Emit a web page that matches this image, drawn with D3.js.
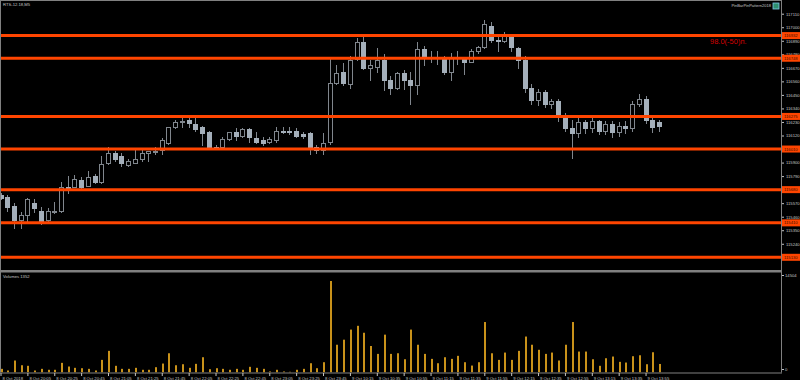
<!DOCTYPE html>
<html>
<head>
<meta charset="utf-8">
<script src="https://cdn.jsdelivr.net/npm/d3@7/dist/d3.min.js"></script>
<style>
  body { margin: 0; background: #000; }
  svg { display: block; }
  text { font-family: "Liberation Sans", Arial, sans-serif; }
</style>
</head>
<body>
<script>
// RTS-12.18, M5 : 8 Oct 19:45 .. 9 Oct 14:05
var opens  = [115640,115620,115550,115430,115470,115570,115510,115430,115500,115510,
              115700,115700,115760,115710,115790,115740,115900,115980,115950,115880,
              115900,115930,115980,115985,116000,116060,116190,116230,116250,116210,
              116190,116150,116030,116030,116090,116150,116120,116170,116100,116080,
              116070,116080,116160,116160,116160,116130,116140,116030,116000,116070,
              116550,116640,116540,116740,116880,116670,116680,116730,116570,116510,
              116630,116570,116530,116820,116760,116760,116760,116640,116750,116750,
              116720,116810,116840,117010,116900,116890,116930,116830,116730,116510,
              116410,116470,116380,116400,116270,116180,116140,116230,116180,116240,
              116160,116210,116150,116200,116180,116380,116420,116250,116230];
var highs  = [115650,115640,115570,115500,115610,115600,115540,115530,115580,115740,
              115790,115800,115780,115830,115810,115950,116030,115990,115980,115930,
              116020,116000,115990,116030,116100,116190,116250,116270,116260,116290,
              116200,116160,116040,116110,116150,116180,116180,116180,116150,116110,
              116110,116190,116190,116190,116180,116150,116150,116040,116140,116760,
              116690,116710,116770,116910,116940,116730,116830,116780,116600,116640,
              116650,116640,116880,116850,116810,116810,116770,116790,116810,116760,
              116820,116850,117060,117040,116940,116960,116940,116840,116770,116540,
              116500,116490,116420,116420,116300,116250,116260,116250,116260,116250,
              116240,116240,116230,116240,116400,116460,116440,116270,116250];
var lows   = [115600,115510,115370,115370,115420,115500,115400,115420,115490,115500,
              115650,115700,115690,115710,115730,115730,115890,115910,115870,115870,
              115900,115910,115910,115970,115970,116050,116180,116190,116190,116160,
              116040,116030,116010,116030,116080,116080,116110,116070,116060,116040,
              116060,116070,116140,116130,116110,116100,115970,115980,115970,116050,
              116540,116530,116510,116730,116660,116570,116640,116490,116460,116500,
              116500,116380,116460,116690,116720,116700,116620,116570,116700,116620,
              116720,116790,116830,116880,116810,116880,116810,116670,116470,116380,
              116370,116350,116340,116240,116160,115940,116110,116140,116150,116130,
              116130,116110,116120,116140,116160,116360,116220,116150,116160];
var closes = [115610,115540,115430,115470,115600,115530,115420,115510,115510,115700,
              115690,115770,115700,115780,115740,115890,115980,115930,115900,115910,
              115930,115980,115990,115990,116080,116190,116230,116240,116220,116170,
              116140,116030,116020,116090,116150,116120,116170,116110,116070,116060,
              116090,116160,116150,116150,116120,116120,116030,116000,116060,116550,
              116630,116550,116730,116880,116670,116690,116730,116570,116510,116630,
              116570,116530,116820,116760,116760,116750,116640,116750,116750,116720,
              116810,116840,117030,116900,116890,116940,116840,116730,116510,116410,
              116470,116380,116400,116270,116180,116140,116230,116180,116240,116160,
              116210,116150,116200,116180,116380,116420,116250,116190,116200];
var volumes = [580,320,1900,1150,1060,320,580,430,430,1530,
               950,740,680,580,320,2000,3430,1060,580,580,
               740,430,430,840,1420,3050,1150,1310,740,1370,
               2420,520,680,580,430,580,430,900,740,580,
               160,430,160,110,430,580,1470,680,1630,14504,
               4400,5200,6800,7400,6300,4200,2950,6000,2950,3050,
               2100,6800,4400,2950,2160,1470,2420,2160,2640,1630,
               1100,1630,8000,3050,2000,3160,2000,3430,5700,4400,
               3600,2950,3160,1900,4400,8000,3320,3320,2100,1060,
               2260,2530,1690,1580,2580,2730,1310,3210,1352];

var levels = [116932, 116748, 116275, 116010, 115680, 115410, 115130];
// ticks that fall under a level tag (116010, 115680, 115130) are hidden in the chart
var priceTicks = [117110,117000,116890,116780,116670,116560,116450,116340,116230,116120,
                  115900,115790,115570,115460,115350,115240];
var timeTickIdx = [0,4,8,12,16,20,24,28,32,36,40,44,48,52,56,60,64,68,72,76,80,84,88,92,96];
var timeLabels = ["8 Oct 2018","8 Oct 20:05","8 Oct 20:25","8 Oct 20:45","8 Oct 21:05",
                  "8 Oct 21:25","8 Oct 21:45","8 Oct 22:05","8 Oct 22:25","8 Oct 22:45",
                  "8 Oct 23:05","8 Oct 23:25","8 Oct 23:45","9 Oct 10:15","9 Oct 10:35",
                  "9 Oct 10:55","9 Oct 11:15","9 Oct 11:35","9 Oct 11:55","9 Oct 12:15",
                  "9 Oct 12:35","9 Oct 12:55","9 Oct 13:15","9 Oct 13:35","9 Oct 13:55"];

var width = 800, height = 380;
var axisX = 781;           // price scale line
var mainTop = 2, mainBottom = 269;
var volTop = 273, volBottom = 372.5;

var gridCol = "#808080", textCol = "#c4c4c4";
var wickCol = "#80868d", bearFill = "#a4afba";
var levelCol = "#ff4500", volCol = "#c9921a";

var x = d3.scaleLinear().domain([0, opens.length - 1]).range([0.5, 659]);
var y = d3.scaleLinear().domain([115130, 117110]).range([257.3, 13.7]);
var yv = d3.scaleLinear().domain([0, 14504]).range([volBottom, 281]);

var svg = d3.select("body").append("svg")
    .attr("width", width).attr("height", height);
svg.append("rect").attr("width", width).attr("height", height).attr("fill", "#000");

var defs = svg.append("defs");
defs.append("clipPath").attr("id", "clipMain").append("rect")
    .attr("x", 1).attr("y", mainTop).attr("width", axisX - 1).attr("height", mainBottom - mainTop);
defs.append("clipPath").attr("id", "clipVol").append("rect")
    .attr("x", 1).attr("y", volTop).attr("width", axisX - 1).attr("height", volBottom - volTop);

var bars = d3.range(opens.length).map(function(i) {
  return {i: i, o: opens[i], h: highs[i], l: lows[i], c: closes[i], v: volumes[i]};
});
function cx(d) { return Math.round(x(d.i)); }

// candles
var main = svg.append("g").attr("clip-path", "url(#clipMain)");
main.selectAll(".wick").data(bars).enter().append("line")
    .attr("class", "wick")
    .attr("x1", function(d) { return cx(d) + 0.5; })
    .attr("x2", function(d) { return cx(d) + 0.5; })
    .attr("y1", function(d) { return Math.round(y(d.h)); })
    .attr("y2", function(d) { return Math.round(y(d.l)) + 1; })
    .attr("stroke", wickCol).attr("stroke-width", 1);

main.selectAll(".body").data(bars).enter().append("rect")
    .attr("class", "body")
    .attr("x", function(d) { return cx(d) - 1.5; })
    .attr("width", 4)
    .attr("y", function(d) { return Math.round(y(Math.max(d.o, d.c))) + 0.5; })
    .attr("height", function(d) {
      return Math.max(0, Math.round(y(Math.min(d.o, d.c))) - Math.round(y(Math.max(d.o, d.c))));
    })
    .attr("fill", function(d) { return d.c >= d.o ? "#000" : bearFill; })
    .attr("stroke", function(d) { return d.c >= d.o ? wickCol : bearFill; })
    .attr("stroke-width", 1);

// support / resistance levels (drawn over the candles)
main.selectAll(".level").data(levels).enter().append("line")
    .attr("x1", 1).attr("x2", axisX)
    .attr("y1", function(d) { return y(d); }).attr("y2", function(d) { return y(d); })
    .attr("stroke", levelCol).attr("stroke-width", 3);

// volumes
var vol = svg.append("g").attr("clip-path", "url(#clipVol)");
vol.selectAll(".vbar").data(bars).enter().append("rect")
    .attr("x", function(d) { return cx(d); })
    .attr("width", 2)
    .attr("y", function(d) { return yv(d.v); })
    .attr("height", function(d) { return volBottom - yv(d.v); })
    .attr("fill", volCol);

// frame
svg.append("line").attr("x1", 0).attr("x2", axisX).attr("y1", 0.5).attr("y2", 0.5)
    .attr("stroke", gridCol);
svg.append("line").attr("x1", 0.5).attr("x2", 0.5).attr("y1", 0).attr("y2", volBottom)
    .attr("stroke", gridCol);
svg.append("line").attr("x1", axisX + 0.5).attr("x2", axisX + 0.5).attr("y1", 0).attr("y2", volBottom)
    .attr("stroke", gridCol);
svg.append("rect").attr("x", 0).attr("y", 270).attr("width", axisX + 1).attr("height", 2.5)
    .attr("fill", gridCol);

// price axis
var pAxis = svg.append("g").attr("transform", "translate(" + (axisX + 1) + ",0)")
    .call(d3.axisRight(y).tickValues(priceTicks).tickSize(2).tickPadding(2).tickFormat(d3.format("d")));
pAxis.select(".domain").remove();
pAxis.selectAll("line").attr("stroke", textCol);
pAxis.selectAll("text").attr("fill", textCol).style("font-size", "4.2px");

// level price tags
var tags = svg.append("g");
tags.selectAll("rect").data(levels).enter().append("rect")
    .attr("x", axisX + 1).attr("width", 18)
    .attr("y", function(d) { return y(d) - 3.5; }).attr("height", 7)
    .attr("fill", levelCol);
tags.selectAll("text").data(levels).enter().append("text")
    .attr("x", axisX + 3).attr("y", function(d) { return y(d) + 1.5; })
    .attr("fill", "#3a1000").style("font-size", "4.2px")
    .text(function(d) { return d; });

// time axis
var tAxis = svg.append("g").attr("transform", "translate(0," + (volBottom + 0.5) + ")")
    .call(d3.axisBottom(x).tickValues(timeTickIdx).tickSize(3).tickPadding(1)
      .tickFormat(function(d, i) { return timeLabels[i]; }));
tAxis.select(".domain").attr("stroke", gridCol).attr("d", "M0,0H" + (axisX + 1));
tAxis.selectAll("line").attr("stroke", textCol);
tAxis.selectAll("text").attr("fill", textCol).style("font-size", "4.2px")
    .attr("text-anchor", "start").attr("dx", "1.5px");

// volume scale labels
svg.append("text").attr("x", axisX + 4).attr("y", 277).attr("fill", textCol)
    .style("font-size", "4.2px").text("14504");
svg.append("text").attr("x", axisX + 4).attr("y", 371).attr("fill", textCol)
    .style("font-size", "4.2px").text("0");
svg.append("line").attr("x1", axisX + 1).attr("x2", axisX + 3).attr("y1", 275.5).attr("y2", 275.5)
    .attr("stroke", textCol);
svg.append("line").attr("x1", axisX + 1).attr("x2", axisX + 3).attr("y1", 369.5).attr("y2", 369.5)
    .attr("stroke", textCol);

// captions
svg.append("text").attr("x", 3).attr("y", 6).attr("fill", textCol)
    .style("font-size", "4.2px").text("RTS-12.18,M5");
svg.append("text").attr("x", 3).attr("y", 278).attr("fill", textCol)
    .style("font-size", "4.2px").text("Volumes 1352");
svg.append("text").attr("x", 771).attr("y", 7).attr("fill", textCol)
    .attr("text-anchor", "end").style("font-size", "4px").text("PinBarPinPattern2018");
svg.append("rect").attr("x", 773).attr("y", 3).attr("width", 6).attr("height", 6)
    .attr("fill", "#2f8f6f").attr("stroke", "#7fc7e8").attr("stroke-width", 0.8);
svg.append("text").attr("x", 710).attr("y", 43.5).attr("fill", "#d40000")
    .style("font-size", "7.5px").text("98.0(-50)п.");
</script>
</body>
</html>
